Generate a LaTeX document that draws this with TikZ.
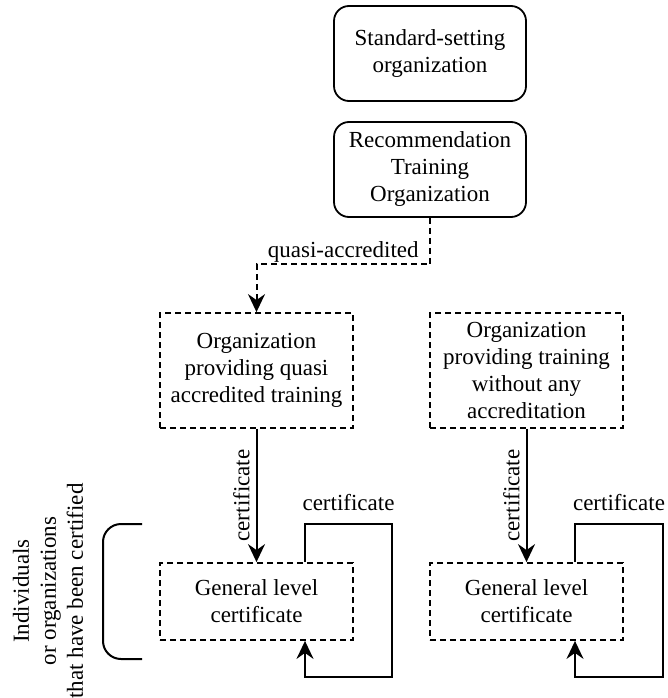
\documentclass[tikz,border=0pt]{standalone}
\usepackage{fontspec}
\setmainfont{Liberation Serif}
\usetikzlibrary{arrows.meta}
\tikzset{
  roundbox/.style={draw, line width=1.8pt, rounded corners=15pt, minimum width=192pt, minimum height=95pt, align=center},
  dashbox/.style={draw, line width=1.8pt, dash pattern=on 6pt off 4pt, minimum width=193pt, align=center},
  link/.style={line width=2pt, -{Stealth[length=18pt,width=17pt,inset=6pt]}},
}

\begin{document}
\begin{tikzpicture}[x=1pt, y=-1pt, font=\fontsize{23}{27}\selectfont]
  \useasboundingbox (0,0) rectangle (668,698);
  % top boxes
  \node[roundbox] (std) at (430,53.5) {Standard-setting\\organization};
  \node[roundbox] (rto) at (430,169.5) {Recommendation\\Training\\Organization};
  % training providers
  \node[dashbox, minimum height=115pt] (quasi) at (256.5,370.5) {Organization\\providing quasi\\accredited training};
  \node[dashbox, minimum height=115pt] (noacc) at (526.5,370.5) {Organization\\providing training\\without any\\accreditation};
  % certificates
  \node[dashbox, minimum height=77pt] (glcA) at (256.5,601.5) {General level\\certificate};
  \node[dashbox, minimum height=77pt] (glcB) at (526.5,601.5) {General level\\certificate};

  \draw [link, dash pattern=on 6pt off 4pt] (rto.south) -- ++(0,46.5) -| (quasi.north) node[pos=0.25, above, inner sep=1pt]{quasi-accredited};
  \draw [link] (quasi.south) -- (glcA.north) node[midway, rotate=90, anchor=south, inner sep=6pt]{certificate};
  \draw [link] (noacc.south) -- (glcB.north) node[midway, rotate=90, anchor=south, inner sep=6pt]{certificate};

  % loops
  \draw [link] ([xshift=48.5pt]glcA.north) -- ++(0,-38) -- ++(87,0) node[midway, above=10pt, inner sep=2pt]{certificate} -- ++(0,153) -- ++(-87,0) -- ([xshift=48.5pt]glcA.south);
  \draw [link] ([xshift=48.5pt]glcB.north) -- ++(0,-38) -- ++(88,0) node[midway, above=10pt, inner sep=2pt]{certificate} -- ++(0,153) -- ++(-88,0) -- ([xshift=48.5pt]glcB.south);

  % bracket and side text
  \draw [line width=2pt, rounded corners=18pt] (142,524) -- (103,524) -- (103,659) -- (142,659);
  \node[rotate=90, align=center] (who) at (48,591) {Individuals\\or organizations\\that have been certified};
\end{tikzpicture}
\end{document}
